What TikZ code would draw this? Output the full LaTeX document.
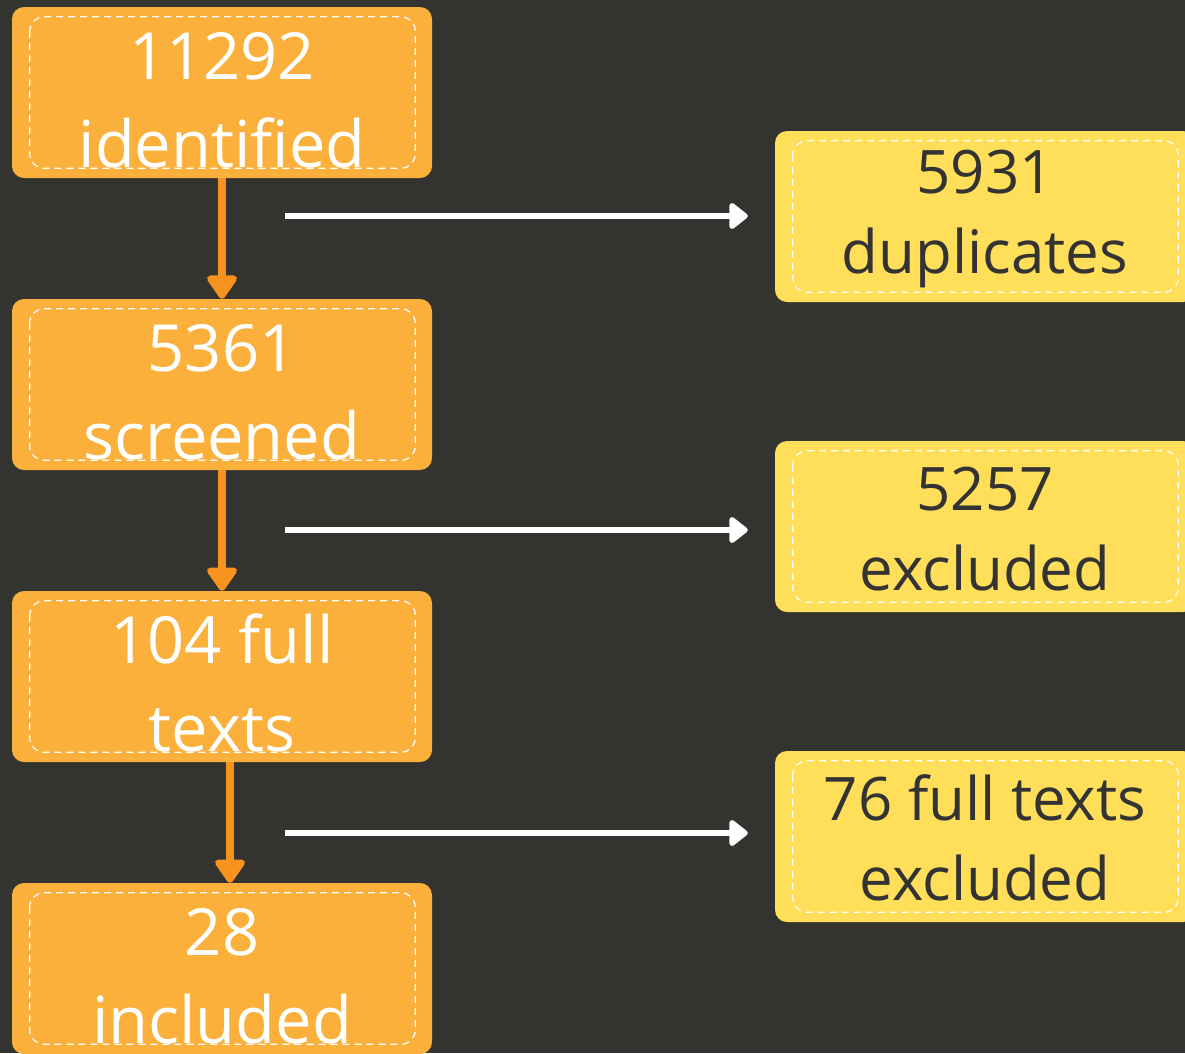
\documentclass[tikz,border=0pt]{standalone}
\usepackage{fontspec}
\setmainfont{Open Sans}
\usepackage{tikz}
\usetikzlibrary{positioning, arrows.meta}
\definecolor{bgdark}{HTML}{33332F}
\definecolor{boxorange}{HTML}{FBB03B}
\definecolor{arrorange}{HTML}{F7931E}
\definecolor{boxyellow}{HTML}{FFDE59}
\definecolor{textdark}{HTML}{333333}
\newcommand{\ostrut}{\rule{0pt}{62pt}}
\newcommand{\ystrut}{\rule{0pt}{48pt}}
\tikzstyle{mainbox} = [rectangle, rounded corners=12pt, minimum width=420pt, minimum height=171pt, inner sep=0pt, fill=boxorange, text=white, align=center, font=\fontsize{65}{88}\selectfont]
\tikzstyle{sidebox} = [rectangle, rounded corners=12pt, minimum width=420pt, minimum height=171pt, inner sep=0pt, fill=boxyellow, text=textdark, align=center, font=\fontsize{60}{80}\selectfont]
\tikzstyle{innerdash} = [white, line width=1.2pt, rounded corners=14pt, dash pattern=on 7pt off 5pt]
\tikzstyle{downarrow} = [arrorange, line width=8pt, -{Triangle[width=34pt,length=26pt,round]}]
\tikzstyle{sidearrow} = [white, line width=6pt, -{Triangle[width=30pt,length=20pt,round]}]

\begin{document}
\begin{tikzpicture}[x=1pt, y=-1pt]
		\fill[bgdark] (0,0) rectangle (1185,1053);
		\useasboundingbox (0,0) rectangle (1185,1053);
		\clip (0,0) rectangle (1185,1053);
		% left column
		\node (ident) [mainbox] at (222,92.5) {\ostrut 11292\\identified};
		\node (screen) [mainbox, below of=ident, node distance=292pt] {\ostrut 5361\\screened};
		\node (full) [mainbox, below of=screen, node distance=292pt] {\ostrut 104 full\\texts};
		\node (incl) [mainbox, below of=full, node distance=292pt] {\ostrut 28\\included};
		% right column
		\node (dup) [sidebox] at (985,216.5) {\ystrut 5931\\duplicates};
		\node (excl) [sidebox, below of=dup, node distance=310pt] {\ystrut 5257\\excluded};
		\node (fullex) [sidebox, below of=excl, node distance=310pt] {\ystrut 76 full texts\\excluded};
		\foreach \b in {ident,screen,full,incl,dup,excl,fullex}
			\draw[innerdash] ([xshift=18pt,yshift=-10pt]\b.north west) rectangle ([xshift=-17pt,yshift=10pt]\b.south east);
		% connectors
		\draw [downarrow] (ident) -- (screen);
		\draw [downarrow] (screen) -- (full);
		\draw [downarrow] ([xshift=8pt]full.south) -- ([xshift=8pt]incl.north);
		\coordinate (a1) at (285,216);
		\coordinate (a2) at (285,530);
		\coordinate (a3) at (285,833);
		\draw [sidearrow, shorten >=27pt] (a1) -- (a1 -| dup.west);
		\draw [sidearrow, shorten >=27pt] (a2) -- (a2 -| excl.west);
		\draw [sidearrow, shorten >=27pt] (a3) -- (a3 -| fullex.west);
	\end{tikzpicture}
\end{document}
